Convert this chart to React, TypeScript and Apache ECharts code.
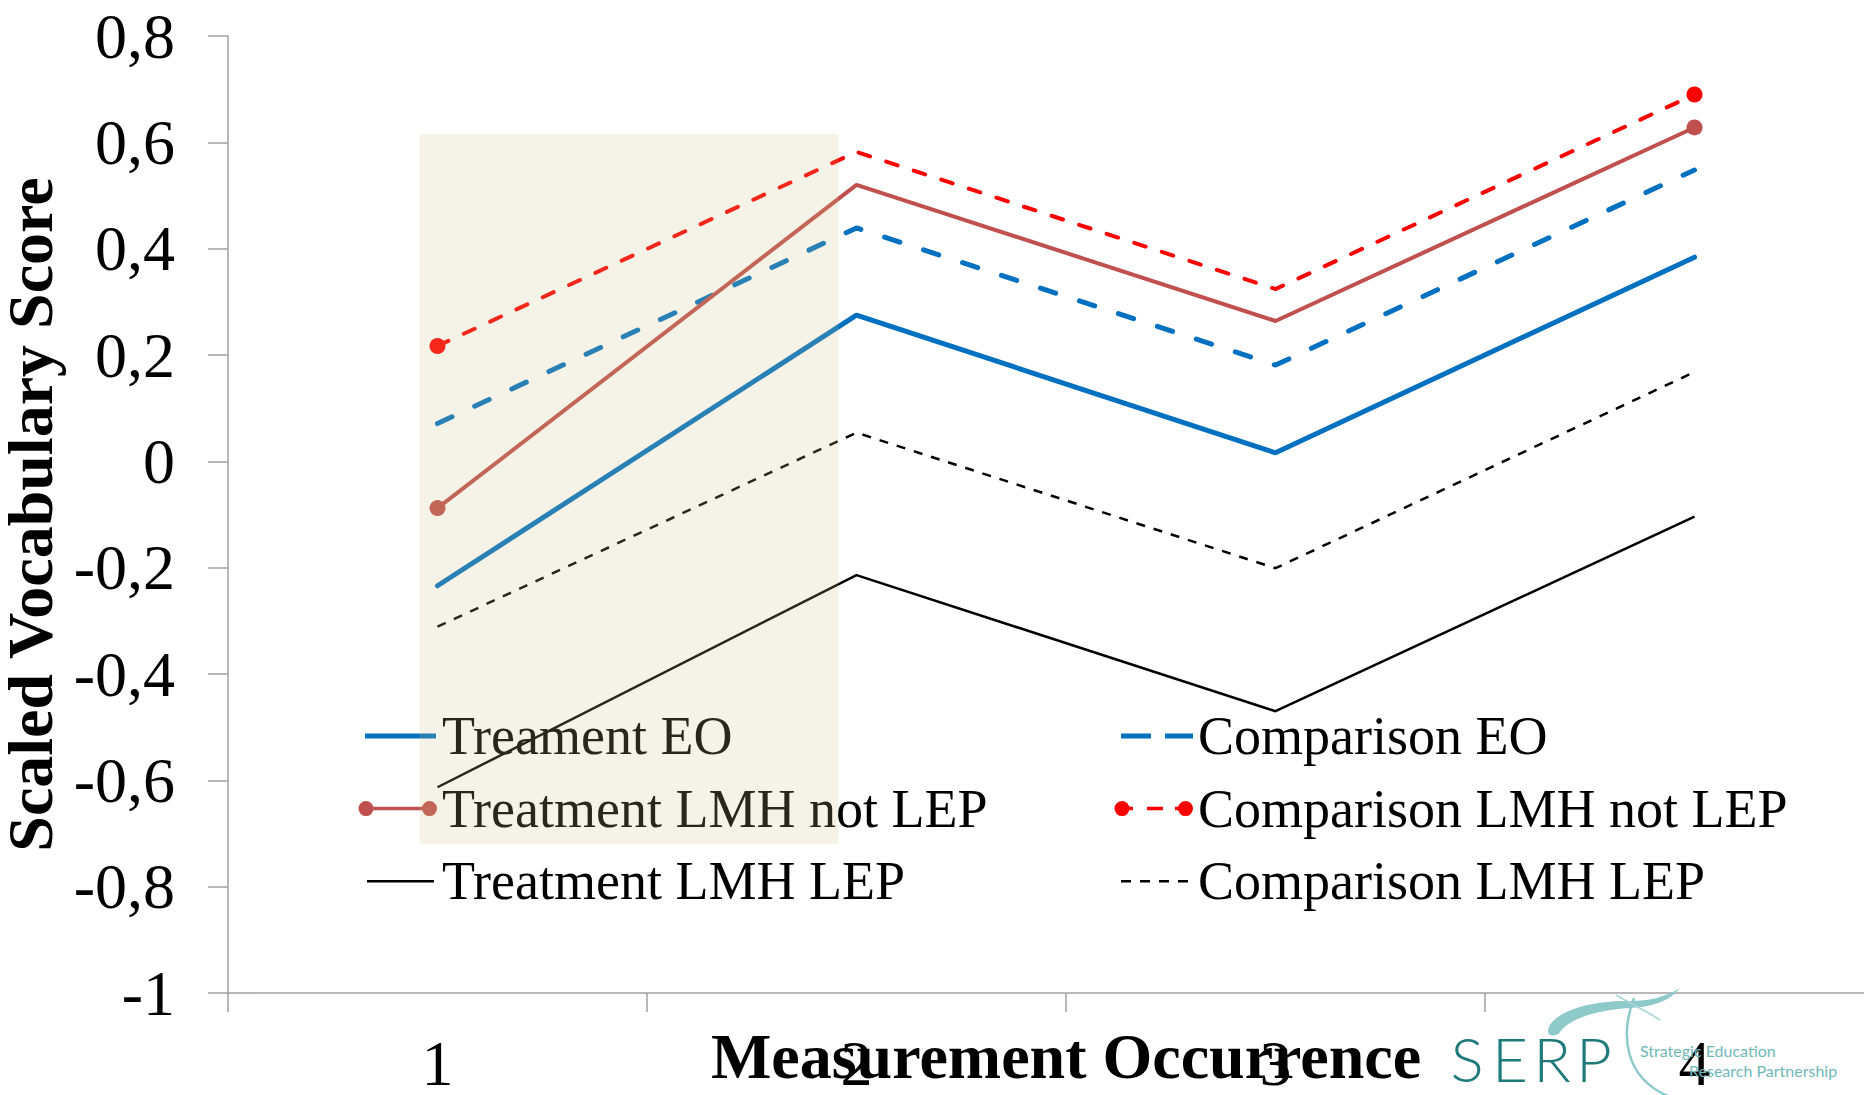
import React, { useEffect, useRef } from "react";
import * as echarts from "echarts";

// Measurement occurrences (x categories)
const occurrences = ["1", "2", "3", "4"];

// Scaled vocabulary scores per group
const treatmentEO = [-0.234, 0.275, 0.016, 0.384];
const comparisonEO = [0.071, 0.439, 0.181, 0.548];
const treatmentLmhNotLep = [-0.088, 0.52, 0.264, 0.628];
const comparisonLmhNotLep = [0.217, 0.582, 0.324, 0.69];
const treatmentLmhLep = [-0.613, -0.214, -0.47, -0.104];
const comparisonLmhLep = [-0.311, 0.054, -0.201, 0.168];

// Y axis ticks and their (comma-decimal) labels
const yTickValues = [-1, -0.8, -0.6, -0.4, -0.2, 0, 0.2, 0.4, 0.6, 0.8];
const yTickLabels = ["-1", "-0,8", "-0,6", "-0,4", "-0,2", "0", "0,2", "0,4", "0,6", "0,8"];

// Highlighted band around the first two occurrences (value range)
const bandTop = 0.615;
const bandBottom = -0.72;

const SERIF = "'Liberation Serif', 'Times New Roman', serif";
const BLUE = "#0070C0";
const BROWN = "#C0504D";
const RED = "#FF0000";
const BLACK = "#000000";
const AXIS_GREY = "#a0a0a0";

// Legend icons, drawn in an 86 x 20 box (first sub-paths pin the box extent)
const BOX = "M0 0L0 0M86 20L86 20";
const circle = (cx: number, r: number) =>
  `M${cx - r} 10A${r} ${r} 0 1 1 ${cx + r} 10A${r} ${r} 0 1 1 ${cx - r} 10Z`;
const bar = (x0: number, x1: number, h: number) =>
  `M${x0} ${10 - h / 2}L${x1} ${10 - h / 2}L${x1} ${10 + h / 2}L${x0} ${10 + h / 2}Z`;

const iconTreatEO = "path://" + BOX + bar(14, 85, 5);
const iconCompEO = "path://" + BOX + bar(14, 44, 5) + bar(58, 86, 5);
const iconTreatNot = "path://" + BOX + bar(15, 78.5, 3.5) + circle(15, 7.5) + circle(78.5, 7.5);
const iconCompNot =
  "path://" + BOX + bar(15, 26, 3.5) + bar(40, 56, 3.5) + bar(68, 78.5, 3.5) + circle(15, 7.5) + circle(78.5, 7.5);
const iconTreatLep = "path://" + BOX + bar(16, 83, 2.5);
const iconCompLep = "path://" + BOX + bar(14, 24, 2.5) + bar(33, 43, 2.5) + bar(52, 62, 2.5) + bar(71, 81, 2.5);

// Swoosh of the SERP logo
const swooshD =
  "M1548 1030C1552 1012 1590 1000 1630 1001C1650 1001 1665 997 1680 988C1669 1002 1650 1007 1630 1008C1598 1010 1570 1018 1560 1032C1557 1037 1547 1037 1548 1030Z";
echarts.graphic.registerShape("serpSwoosh", echarts.graphic.extendPath(swooshD, {}));

// Only the first and last point of these series carry a marker
const endMarkers = (values: number[], color: string) =>
  values.map((v, i) =>
    i === 0 || i === values.length - 1
      ? { value: v, symbol: "circle", symbolSize: 16, itemStyle: { color } }
      : { value: v, symbol: "none" }
  );

export default function App() {
  const ref = useRef<HTMLDivElement>(null);

  useEffect(() => {
    if (!ref.current) return;
    const chart = echarts.init(ref.current, undefined, { renderer: "svg" });

    const legendCommon = {
      orient: "vertical" as const,
      top: 706,
      itemWidth: 86,
      itemHeight: 20,
      itemGap: 12.6,
      padding: 0,
      selectedMode: false,
      itemStyle: { borderWidth: 0 },
      textStyle: { fontFamily: SERIF, fontSize: 54, lineHeight: 60, color: "#000" },
    };

    chart.setOption({
      animation: false,
      backgroundColor: "#ffffff",
      grid: {
        left: 228,
        top: 36,
        right: -40,
        bottom: 102,
        containLabel: false,
        outerBoundsMode: "none",
      },
      legend: [
        {
          ...legendCommon,
          left: 351,
          data: [
            { name: "Treament EO", icon: iconTreatEO },
            { name: "Treatment LMH not LEP", icon: iconTreatNot },
            { name: "Treatment LMH LEP", icon: iconTreatLep },
          ],
        },
        {
          ...legendCommon,
          left: 1107,
          data: [
            { name: "Comparison EO", icon: iconCompEO },
            { name: "Comparison LMH not LEP", icon: iconCompNot },
            { name: "Comparison LMH LEP", icon: iconCompLep },
          ],
        },
      ],
      xAxis: {
        type: "category",
        data: occurrences,
        boundaryGap: true,
        name: "Measurement Occurrence",
        nameLocation: "middle",
        nameGap: 31,
        nameMoveOverlap: false,
        nameTextStyle: { fontFamily: SERIF, fontSize: 64, fontWeight: "bold", color: "#000", lineHeight: 64 },
        axisLine: { show: true, onZero: false, lineStyle: { color: AXIS_GREY, width: 1.5 } },
        axisTick: { show: true, length: 19, interval: 0, lineStyle: { color: AXIS_GREY, width: 1.5 } },
        axisLabel: { interval: 0, margin: 38, fontFamily: SERIF, fontSize: 64, lineHeight: 64, color: "#000" },
        splitLine: { show: false },
      },
      yAxis: {
        type: "value",
        min: -1,
        max: 0.8,
        interval: 0.2,
        name: "Scaled Vocabulary Score",
        nameLocation: "middle",
        nameGap: 166,
        nameMoveOverlap: false,
        nameTextStyle: { fontFamily: SERIF, fontSize: 64, fontWeight: "bold", color: "#000", lineHeight: 64 },
        axisLine: { show: true, lineStyle: { color: AXIS_GREY, width: 1.5 } },
        axisTick: { show: true, length: 20, lineStyle: { color: AXIS_GREY, width: 1.5 } },
        axisLabel: {
          margin: 53,
          fontFamily: SERIF,
          fontSize: 64,
          lineHeight: 64,
          color: "#000",
          formatter: (v: number) => {
            const i = yTickValues.findIndex((t) => Math.abs(t - v) < 1e-6);
            return i >= 0 ? yTickLabels[i] : "";
          },
        },
        splitLine: { show: false },
      },
      series: [
        {
          name: "Comparison LMH LEP",
          type: "line",
          data: comparisonLmhLep,
          symbol: "none",
          color: BLACK,
          itemStyle: { color: BLACK },
          lineStyle: { color: BLACK, width: 2.5, type: [9, 9] },
        },
        {
          name: "Treatment LMH LEP",
          type: "line",
          data: treatmentLmhLep,
          symbol: "none",
          color: BLACK,
          itemStyle: { color: BLACK },
          lineStyle: { color: BLACK, width: 2.5 },
        },
        {
          name: "Comparison EO",
          type: "line",
          data: comparisonEO,
          symbol: "none",
          color: BLUE,
          itemStyle: { color: BLUE },
          lineStyle: { color: BLUE, width: 5, type: [16, 25], cap: "round" },
        },
        {
          name: "Treament EO",
          type: "line",
          data: treatmentEO,
          symbol: "none",
          color: BLUE,
          itemStyle: { color: BLUE },
          lineStyle: { color: BLUE, width: 5, cap: "round" },
        },
        {
          name: "Treatment LMH not LEP",
          type: "line",
          data: endMarkers(treatmentLmhNotLep, BROWN),
          symbol: "circle",
          showSymbol: true,
          color: BROWN,
          itemStyle: { color: BROWN, borderWidth: 0 },
          lineStyle: { color: BROWN, width: 4 },
        },
        {
          name: "Comparison LMH not LEP",
          type: "line",
          data: endMarkers(comparisonLmhNotLep, RED),
          symbol: "circle",
          showSymbol: true,
          color: RED,
          itemStyle: { color: RED, borderWidth: 0 },
          lineStyle: { color: RED, width: 4, type: [12, 17], cap: "round" },
        },
      ],
    });

    // Translucent band over the first interval, placed through the axes
    const p0 = chart.convertToPixel({ gridIndex: 0 }, [0, bandTop]) as number[];
    const p1 = chart.convertToPixel({ gridIndex: 0 }, [1, bandBottom]) as number[];
    const catWidth = p1[0] - p0[0];
    const bandLeft = p0[0] - 0.043 * catWidth;
    const bandRight = p1[0] - 0.043 * catWidth;

    chart.setOption({
      graphic: [
        {
          type: "rect",
          z: 100,
          silent: true,
          shape: { x: bandLeft, y: p0[1], width: bandRight - bandLeft, height: p1[1] - p0[1] },
          style: { fill: "rgba(206,196,137,0.2)" },
        },
        {
          type: "serpSwoosh",
          x: 0,
          y: 0,
          z: 1,
          silent: true,
          style: { fill: "#8fcaca" },
        },
        {
          type: "bezierCurve",
          z: 1,
          silent: true,
          shape: { x1: 1634, y1: 998, cpx1: 1620, cpy1: 1035, cpx2: 1624, cpy2: 1078, x2: 1670, y2: 1097 },
          style: { stroke: "#8fcaca", lineWidth: 2.5, fill: "none" },
        },
        {
          type: "bezierCurve",
          z: 1,
          silent: true,
          shape: { x1: 1616, y1: 995, cpx1: 1630, cpy1: 1003, cpx2: 1646, cpy2: 1011, x2: 1660, y2: 1020 },
          style: { stroke: "#a8d6d6", lineWidth: 1.5, fill: "none" },
        },
        ...[
          { t: "S", x: 1467 },
          { t: "E", x: 1510 },
          { t: "R", x: 1552 },
          { t: "P", x: 1594 },
        ].map((l) => ({
          type: "text",
          z: 1,
          silent: true,
          x: l.x,
          y: 1058,
          style: {
            text: l.t,
            fill: "#1f7a7b",
            fontFamily: "Lato, 'Open Sans', sans-serif",
            fontWeight: 300,
            fontSize: 62,
            align: "center",
            verticalAlign: "middle",
          },
        })),
        {
          type: "text",
          z: 1,
          silent: true,
          x: 1640,
          y: 1050,
          style: {
            text: "Strategic Education",
            fill: "#6fb8b8",
            fontFamily: "Lato, 'Open Sans', sans-serif",
            fontSize: 16,
            align: "left",
            verticalAlign: "middle",
          },
        },
        {
          type: "text",
          z: 1,
          silent: true,
          x: 1689,
          y: 1070,
          style: {
            text: "Research Partnership",
            fill: "#6fb8b8",
            fontFamily: "Lato, 'Open Sans', sans-serif",
            fontSize: 16,
            align: "left",
            verticalAlign: "middle",
          },
        },
      ],
    });

    return () => chart.dispose();
  }, []);

  return (
    <div
      ref={ref}
      style={{ position: "fixed", left: 0, top: 0, width: 1864, height: 1095, background: "#fff" }}
    />
  );
}
